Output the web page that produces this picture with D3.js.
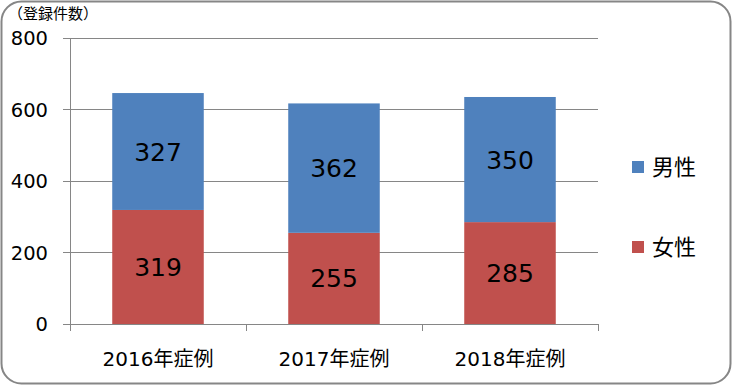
<!DOCTYPE html>
<html><head><meta charset="utf-8">
<script src="https://cdn.jsdelivr.net/npm/d3@7"></script>
<style>body{margin:0;background:#fff}svg{display:block;font-family:"DejaVu Sans","Noto Sans CJK JP",sans-serif}</style>
</head><body><svg id="c" width="732" height="385"></svg>
<script>
const categories = ["2016年症例", "2017年症例", "2018年症例"];
const female = [319, 255, 285];
const male = [327, 362, 350];
const seriesNames = ["女性", "男性"];
const colors = ["#C0504D", "#4F81BD"];
const yTicks = [0, 200, 400, 600, 800];
const unitLabel = "（登録件数）";

const svg = d3.select("#c");
svg.append("rect").attr("x",1.5).attr("y",1.5).attr("width",729).attr("height",382)
  .attr("rx",20).attr("ry",20).attr("fill","#fff").attr("stroke","#868686").attr("stroke-width",2);

const m = {l:70, r:134, t:38, b:61};
const W = 732, H = 385;
const x = d3.scaleBand().domain(categories).range([m.l, W-m.r]).paddingInner(0.48).paddingOuter(0.24);
const xb = d3.scaleBand().domain(categories).range([m.l, W-m.r]);
const y = d3.scaleLinear().domain([0,800]).range([H-m.b, m.t]);

// gridlines
svg.append("g").selectAll("line").data(yTicks).join("line")
  .attr("x1", m.l-7).attr("x2", W-m.r).attr("y1", d=>y(d)).attr("y2", d=>y(d))
  .attr("stroke","#868686").attr("stroke-width",1).attr("shape-rendering","crispEdges");
// y axis line
svg.append("line").attr("x1",m.l).attr("x2",m.l).attr("y1",y(800)).attr("y2",y(0)+7)
  .attr("stroke","#868686").attr("shape-rendering","crispEdges");
// x ticks
const bounds = categories.map(c=>xb(c)).concat([W-m.r]);
svg.append("g").selectAll("line").data(bounds).join("line")
  .attr("x1",d=>d).attr("x2",d=>d).attr("y1",y(0)).attr("y2",y(0)+7)
  .attr("stroke","#868686").attr("shape-rendering","crispEdges");
// y tick labels
svg.append("g").selectAll("text").data(yTicks).join("text")
  .attr("x", m.l-22).attr("y", d=>y(d)).attr("dy","0.36em").attr("text-anchor","end")
  .attr("font-size",19.5).attr("fill","#000").text(d=>d);
// x labels
svg.append("g").selectAll("text").data(categories).join("text")
  .attr("x", d=>xb(d)+xb.bandwidth()/2).attr("y", y(0)+42).attr("text-anchor","middle")
  .attr("font-size",20).attr("fill","#000").text(d=>d);
// unit label
svg.append("text").attr("x",8).attr("y",19).attr("font-size",15)
  .attr("font-family","'Noto Sans CJK JP',sans-serif").attr("fill","#000").text(unitLabel);

// stacked bars
const rows = categories.map((c,i)=>({cat:c, f:female[i], m:male[i]}));
const stack = d3.stack().keys(["f","m"])(rows);
stack.forEach((s,si)=>{
  const g = svg.append("g");
  g.selectAll("rect").data(s).join("rect")
    .attr("x", d=>x(d.data.cat)).attr("width", x.bandwidth())
    .attr("y", d=>y(d[1])).attr("height", d=>y(d[0])-y(d[1]))
    .attr("fill", colors[si]);
  g.selectAll("text").data(s).join("text")
    .attr("x", d=>x(d.data.cat)+x.bandwidth()/2).attr("y", d=>y((d[0]+d[1])/2))
    .attr("dy","0.36em").attr("text-anchor","middle").attr("font-size",25).attr("fill","#000")
    .text(d=>d[1]-d[0]);
});

// legend
const leg = [{n:seriesNames[1], c:colors[1], y:167},{n:seriesNames[0], c:colors[0], y:247}];
const lg = svg.append("g");
lg.selectAll("rect").data(leg).join("rect").attr("x",632).attr("y",d=>d.y-6).attr("width",12).attr("height",12).attr("fill",d=>d.c);
lg.selectAll("text").data(leg).join("text").attr("x",652).attr("y",d=>d.y).attr("dy","0.36em")
  .attr("font-size",22).attr("font-family","'Noto Sans CJK JP',sans-serif").attr("fill","#000").text(d=>d.n);
</script></body></html>
